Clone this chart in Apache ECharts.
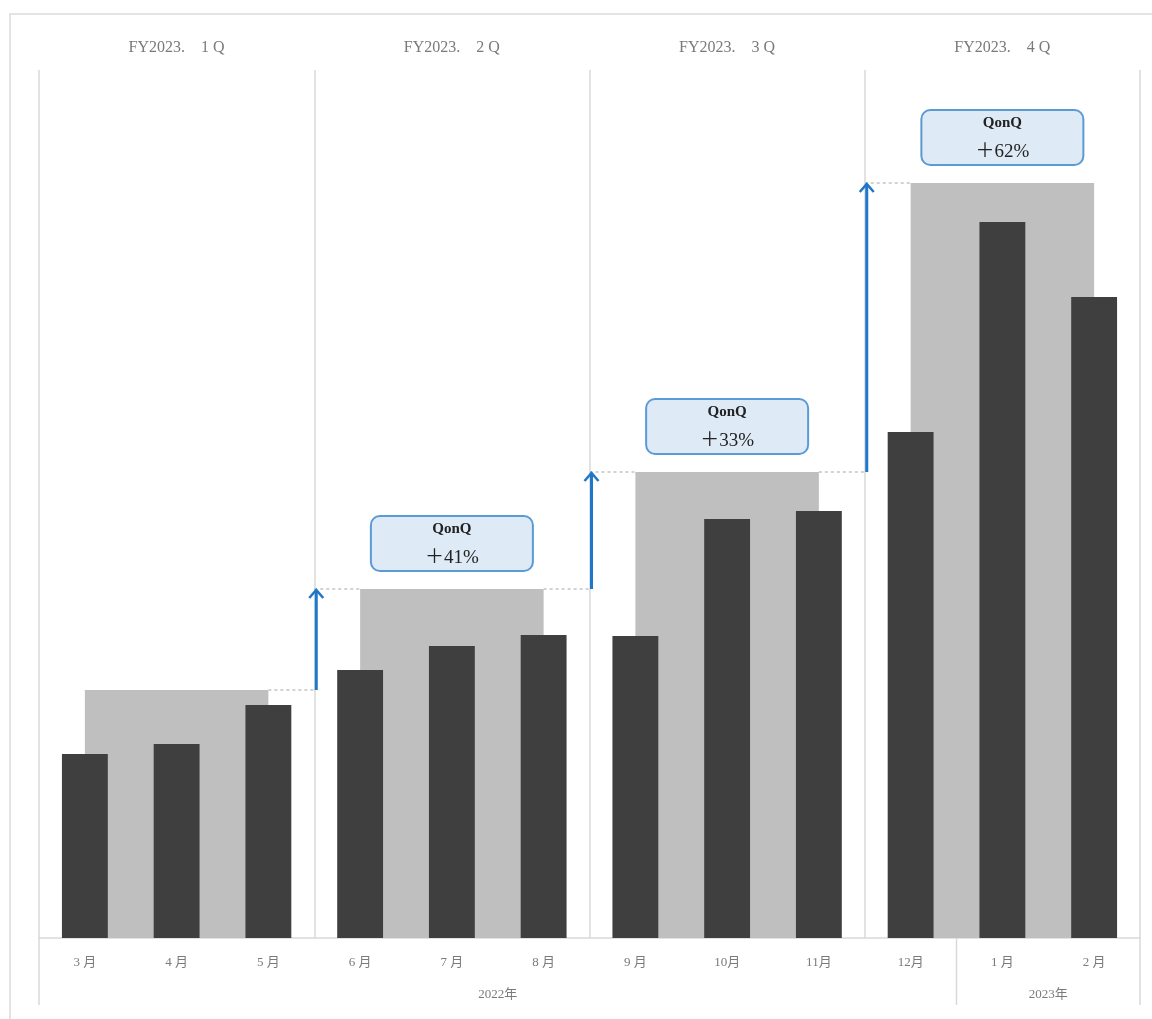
<!DOCTYPE html>
<html>
<head>
<meta charset="utf-8">
<script src="https://cdn.jsdelivr.net/npm/echarts@6/dist/echarts.min.js"></script>
<style>html,body{margin:0;padding:0;background:#fff}#c{width:1152px;height:1019px}</style>
</head>
<body>
<div id="c"></div>
<script>
const months = ['3 月','4 月','5 月','6 月','7 月','8 月','9 月','10月','11月','12月','1 月','2 月'];
const monthly = [184,194,233,268,292,303,302,419,427,506,716,641];
const quarters = ['FY2023.\u30001 Q','FY2023.\u30002 Q','FY2023.\u30003 Q','FY2023.\u30004 Q'];
const quarterly = [248,349,466,755];
const qoq = ['', '＋41%', '＋33%', '＋62%'];
const years = ['2022年','2023年'];
const yearSpans = [[0,10],[10,12]];

const FONT = '"Liberation Serif", "DejaVu Serif", "Noto Sans CJK JP", serif';
const chart = echarts.init(document.getElementById('c'));

const grayData = quarterly.map((v,i)=>[i*3+1, v]);
const boxData = quarterly.slice(1).map((v,i)=>[(i+1)*3+1, v]);
const arrowData = quarterly.slice(1).map((v,i)=>[(i+1)*3, quarterly[i], v]);

chart.setOption({
  animation:false,
  backgroundColor:'#fff',
  grid:{left:39, right:12, top:70, bottom:81},
  xAxis:[
    {type:'category', data:months, position:'bottom',
     axisLine:{show:true, lineStyle:{color:'#d9d9d9', width:1.5}},
     axisTick:{show:false},
     axisLabel:{color:'#7a7a7a', fontSize:13, fontFamily:FONT, margin:18},
     splitLine:{show:false}},
    {type:'value', min:0, max:12, interval:3, position:'bottom', show:true,
     axisLine:{show:false}, axisTick:{show:false}, axisLabel:{show:false},
     splitLine:{show:true, lineStyle:{color:'#d9d9d9', width:1.5}}},
    {type:'category', data:quarters, position:'top',
     axisLine:{show:false}, axisTick:{show:false},
     axisLabel:{color:'#7a7a7a', fontSize:16, fontFamily:FONT, margin:14}}
  ],
  yAxis:{type:'value', min:0, max:868, show:false, splitLine:{show:false}},
  series:[
    {type:'custom', xAxisIndex:0, z:1, data:grayData,
     renderItem:function(params, api){
       const c = api.coord([api.value(0), api.value(1)]);
       const b = api.coord([api.value(0), 0]);
       const bw = api.size([1,0])[0];
       return {type:'rect', shape:{x:c[0]-bw, y:c[1], width:2*bw, height:b[1]-c[1]}, style:{fill:'#bfbfbf'}};
     }},
    {type:'bar', xAxisIndex:0, z:3, data:monthly, barWidth:'50%',
     itemStyle:{color:'#3f3f3f'}},
    {type:'custom', xAxisIndex:1, z:2, data:arrowData,
     renderItem:function(params, api){
       const bx = api.value(0);
       const p0 = api.coord([bx, api.value(1)]);
       const p1 = api.coord([bx, api.value(2)]);
       const l0 = api.coord([bx-0.5, api.value(1)]);
       const r1 = api.coord([bx+0.5, api.value(2)]);
       const ax = p0[0]+2;
       const dash = {stroke:'#c4c4c4', lineWidth:1.5, lineDash:[3,3]};
       return {type:'group', children:[
         {type:'line', shape:{x1:l0[0], y1:p0[1], x2:p0[0], y2:p0[1]}, style:dash},
         {type:'line', shape:{x1:p1[0], y1:p1[1], x2:r1[0], y2:p1[1]}, style:dash},
         {type:'line', shape:{x1:ax, y1:p0[1], x2:ax, y2:p1[1]+1}, style:{stroke:'#1f77c9', lineWidth:3}},
         {type:'polyline', shape:{points:[[ax-7,p1[1]+9],[ax,p1[1]+1],[ax+7,p1[1]+9]]}, style:{stroke:'#1f77c9', lineWidth:2.5, fill:null}}
       ]};
     }},
    {type:'custom', xAxisIndex:0, z:5, data:boxData,
     renderItem:function(params, api){
       const c = api.coord([api.value(0), api.value(1)]);
       const w = 162, h = 55;
       const cy = c[1]-18-h/2;
       return {type:'group', children:[
         {type:'rect', shape:{x:c[0]-w/2, y:cy-h/2, width:w, height:h, r:9},
          style:{fill:'#deeaf6', stroke:'#5b9bd5', lineWidth:2}},
         {type:'text', x:c[0], y:cy-14, style:{text:'QonQ', fill:'#222', font:'bold 15px '+FONT, align:'center', verticalAlign:'middle'}},
         {type:'text', x:c[0], y:cy+15, style:{text:qoq[params.dataIndex+1], fill:'#222', font:'19px '+FONT, align:'center', verticalAlign:'middle'}}
       ]};
     }}
  ]
});

const px = v => chart.convertToPixel({xAxisIndex:1}, v);
const baseY = chart.convertToPixel({yAxisIndex:0}, 0);
const g = [
  {type:'rect', shape:{x:10, y:14, width:1200, height:1100}, style:{fill:null, stroke:'#e4e4e4', lineWidth:2}, z:0}
];
[0, yearSpans[0][1], 12].forEach(v=>{
  g.push({type:'line', shape:{x1:px(v), y1:baseY, x2:px(v), y2:baseY+67}, style:{stroke:'#d9d9d9', lineWidth:1.5}});
});
years.forEach((t,i)=>{
  g.push({type:'text', x:px((yearSpans[i][0]+yearSpans[i][1])/2), y:baseY+57,
    style:{text:t, fill:'#7a7a7a', font:'13px '+FONT, align:'center', verticalAlign:'middle'}});
});
chart.setOption({graphic:g});
</script>
</body>
</html>
